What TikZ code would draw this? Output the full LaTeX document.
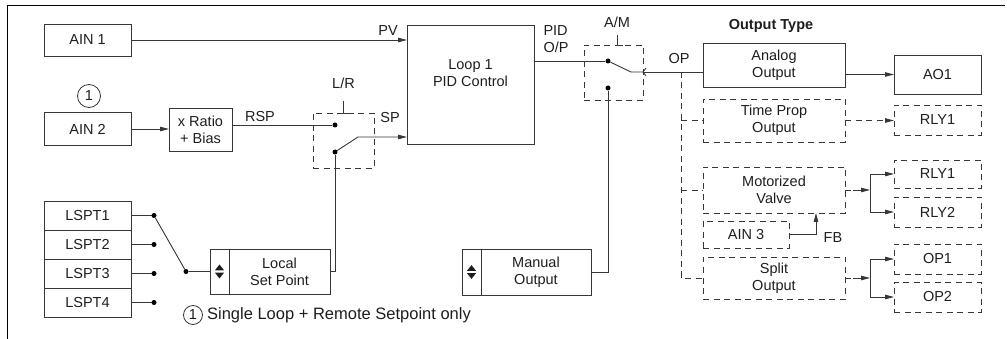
\documentclass[tikz,border=0pt]{standalone}
\usepackage{fontspec}
\setmainfont{Liberation Sans}
\usetikzlibrary{arrows.meta,positioning,calc}
\definecolor{CtrlLine}{RGB}{55,55,55}
\definecolor{CtrlText}{RGB}{30,30,30}

\begin{document}
\begin{tikzpicture}[
    x=1pt,y=-1pt,
    font=\fontsize{14.5}{17}\selectfont,
    every node/.style={text=CtrlText},
    box/.style={draw=CtrlLine,line width=0.8pt,inner sep=0pt,outer sep=0pt,align=center},
    dbox/.style={box,dash pattern=on 6pt off 4.5pt},
    wire/.style={line width=0.9pt,draw=CtrlLine},
    dwire/.style={wire,dash pattern=on 6pt off 4.5pt},
    arr/.style={wire,-{Triangle[length=9pt,width=4.5pt]}},
    darr/.style={dwire,-{Triangle[length=9pt,width=4.5pt]}},
    dot/.style={circle,fill=black,inner sep=0pt,minimum size=5pt},
    note/.style={circle,draw=CtrlLine,line width=0.8pt,inner sep=0pt},
    updown/.pic={
      \fill[CtrlText] (-4.5,-1.2) -- (4.5,-1.2) -- (0,-7) -- cycle;
      \fill[CtrlText] (-4.5,1.2) -- (4.5,1.2) -- (0,7) -- cycle;
    }
  ]
    \useasboundingbox (0,0) rectangle (1007,339);
    \draw[line width=0.8pt] (7,339) -- (7,5) -- (1005,5);

    % inputs and controller
    \node[box,minimum width=87pt,minimum height=32pt] (ain1) at (87.5,40) {AIN 1};
    \node[note,minimum size=23pt] (mark) at (89,96) {1};
    \node[box,minimum width=87pt,minimum height=33pt] (ain2) at (87.5,129) {AIN 2};
    \node[box,minimum width=63pt,minimum height=43pt] (ratio) at (200.5,129.5) {x Ratio\\+ Bias};
    \node[box,minimum width=127pt,minimum height=119pt] (pid) at (470.5,84.5) {Loop 1\\PID Control\\[6pt]};

    % local set points
    \node[box,minimum width=87pt,minimum height=29pt] (lspt1) at (87.5,215.5) {LSPT1};
    \node[box,minimum width=87pt,minimum height=29pt,below=0pt of lspt1] (lspt2) {LSPT2};
    \node[box,minimum width=87pt,minimum height=29pt,below=0pt of lspt2] (lspt3) {LSPT3};
    \node[box,minimum width=87pt,minimum height=29pt,below=0pt of lspt3] (lspt4) {LSPT4};
    \node[box,minimum width=101pt,minimum height=45pt] (lsp) at (279.5,271.5) {Local\\Set Point};
    \node[box,minimum width=19pt,minimum height=45pt,left=0pt of lsp] (lspud) {};
    \pic at (lspud.center) {updown};
    \node[box,minimum width=110pt,minimum height=46pt] (manual) at (536,272) {Manual\\Output};
    \node[box,minimum width=19pt,minimum height=46pt,left=0pt of manual] (manud) {};
    \pic at (manud.center) {updown};

    % switches
    \node[dbox,minimum width=61pt,minimum height=55pt] (lr) at (343.5,140.5) {};
    \node[dbox,minimum width=59pt,minimum height=55pt] (am) at (613.5,72.5) {};
    \node[dot] (lrR) at (335,125) {};
    \node[dot] (lrL) at (335,152) {};
    \coordinate (lrArm) at (358,137);
    \node[dot] (amP) at (608,61) {};
    \node[dot] (amM) at (608,88) {};
    \coordinate (amArm) at (631,72);
    \coordinate (amOut) at (am.east |- amArm);
    \node (lrlbl) at (343.5,83) {L/R};
    \node (amlbl) at (617,22) {A/M};
    \draw[wire] ([yshift=12pt]lr.north) -- (lr.north) -- ++(6,0);
    \draw[wire] ([xshift=3.5pt,yshift=10pt]am.north) -- ([xshift=3.5pt]am.north) -- ++(6,0);

    % output types
    \node[font=\fontsize{14.5}{17}\selectfont\bfseries] (otype) at (771,26) {Output Type};
    \node[box,minimum width=142pt,minimum height=44pt] (analog) at (774,65) {Analog\\Output};
    \node[box,minimum width=87pt,minimum height=39pt] (ao1) at (937.5,74.5) {AO1};
    \node[dbox,minimum width=142pt,minimum height=43pt] (timeprop) at (774,120.5) {Time Prop\\Output};
    \node[dbox,minimum width=87pt,minimum height=30pt] (rlyA) at (937.5,120) {RLY1};
    \node[dbox,minimum width=142pt,minimum height=46pt] (valve) at (774,190) {Motorized\\Valve};
    \node[dbox,minimum width=86pt,minimum height=27pt] (ain3) at (746,234.5) {AIN 3};
    \node[dbox,minimum width=142pt,minimum height=42pt] (split) at (774,278) {Split\\Output};
    \node[dbox,minimum width=87pt,minimum height=28pt] (rlyB) at (937.5,174) {RLY1};
    \node[dbox,minimum width=87pt,minimum height=30pt] (rlyC) at (937.5,212) {RLY2};
    \node[dbox,minimum width=87pt,minimum height=30pt] (opA) at (937.5,259) {OP1};
    \node[dbox,minimum width=87pt,minimum height=30pt] (opB) at (937.5,297) {OP2};

    % signal labels
    \node (pv) at (388,31) {PV};
    \node (rsp) at (260,117) {RSP};
    \node (sp) at (390,118) {SP};
    \node[align=left,anchor=west] (pidop) at (540,39) {PID\\O/P};
    \node (op) at (679,59) {OP};
    \node (fb) at (833,238) {FB};

    % connections
    \draw[arr] (ain1.east) -- (pid.west |- ain1);
    \draw[arr] (ain2.east) -- (ratio.west |- ain2);
    \draw[wire] (ratio.east |- lrR) -- (lrR);
    \draw[arr] (lrL) -- (lrArm) -- (pid.west |- lrArm);
    \draw[wire] (lsp.east) -| (lrL);
    \foreach \i in {1,...,4}
      \draw[wire] (lspt\i.east) -- ++(23,0) node[dot] (tap\i) {};
    \node[dot] (tapC) at (186,271.5) {};
    \draw[wire] (tap1) -- (tapC);
    \draw[wire] (tapC) -- (lspud.west);
    \draw[wire] (pid.east |- amP) -- (amP);
    \draw[wire] (amP) -- (amArm) -- (amOut);
    \draw[wire] ([shift={(3,-4)}]amOut) -- (amOut) -- ([shift={(3,4)}]amOut);
    \draw[wire] (manual.east) -| (amM);
    \draw[wire] (amOut) -- (analog.west |- amOut);
    \draw[arr] (analog.east |- ao1) -- (ao1.west);

    % optional output paths
    \coordinate (trunk) at (681,72);
    \draw[dwire] (trunk) |- (split.west);
    \draw[dwire] (trunk |- timeprop) -- (timeprop.west);
    \draw[dwire] (trunk |- valve) -- (valve.west);
    \draw[darr] (timeprop.east) -- (rlyA.west |- timeprop.east);
    \draw[arr] (ain3.east) -| ([xshift=42pt]valve.south);
    \coordinate (fanV) at ([xshift=25pt]valve.east);
    \coordinate (fanS) at ([xshift=25pt]split.east);
    \draw[dwire] (valve.east) -- ++(8,0) coordinate (vstub);
    \draw[arr] (vstub) -- (fanV);
    \draw[wire] (fanV |- rlyB) -- (fanV |- rlyC);
    \draw[arr] (fanV |- rlyB) -- (rlyB.west);
    \draw[arr] (fanV |- rlyC) -- (rlyC.west);
    \draw[dwire] (split.east) -- ++(8,0) coordinate (sstub);
    \draw[arr] (sstub) -- (fanS);
    \draw[wire] (fanS |- opA) -- (fanS |- opB);
    \draw[arr] (fanS |- opA) -- (opA.west);
    \draw[arr] (fanS |- opB) -- (opB.west);

    % footnote
    \node[note,minimum size=19pt] (fnmark) at (193,315) {1};
    \node[inner sep=0pt,right=4pt of fnmark,font=\fontsize{16.5}{19}\selectfont] (fntext) {Single Loop + Remote Setpoint only};
\end{tikzpicture}
\end{document}
